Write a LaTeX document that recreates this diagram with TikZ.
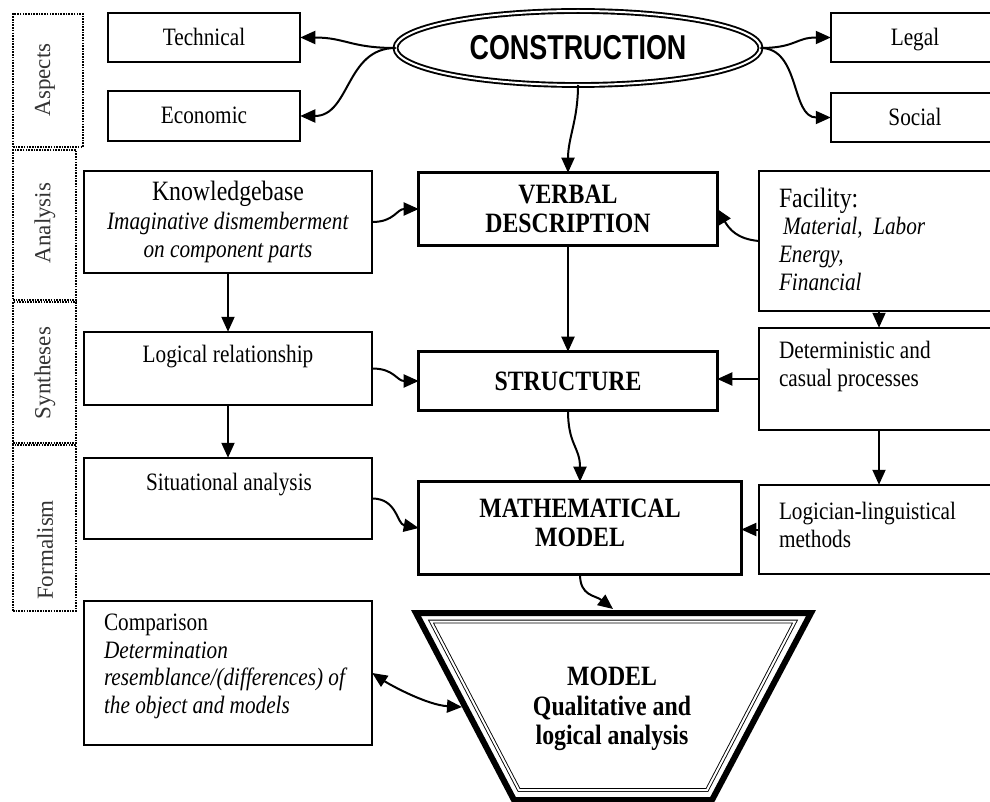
\documentclass[tikz,border=0pt]{standalone}
\usepackage{fontspec}
\setmainfont[FakeStretch=0.85]{Liberation Serif}
\newfontfamily\plainserif{Liberation Serif}
\newfontfamily\consfont[FakeStretch=0.78]{Liberation Sans}
\usetikzlibrary{shapes.geometric,arrows.meta}
\begin{document}
\begin{tikzpicture}[x=1pt,y=-1pt,line join=miter,
  box/.style={draw, rectangle, line width=1.7pt, inner sep=0pt, outer sep=0pt},
  thickbox/.style={box, line width=3.5pt},
  dotbox/.style={draw, rectangle, line width=2pt, dash pattern=on 1.6pt off 1.1pt, inner sep=0pt, outer sep=0pt},
  rtext/.style={font=\fontsize{25}{27.7}\selectfont},
  btext/.style={font=\fontsize{28}{29.5}\selectfont\bfseries},
  tnode/.style={inner sep=0pt, outer sep=0pt},
  lab/.style={tnode, font=\plainserif\fontsize{23}{25}\selectfont, rotate=90, text=black!80},
  aspect/.style={box, rtext, text height=20pt, text depth=4pt},
  arr/.style={line width=2pt, -{Triangle[length=15pt,width=13pt]}},
  darr/.style={line width=2pt, {Triangle[length=15pt,width=13pt]}-{Triangle[length=15pt,width=13pt]}}
]
\useasboundingbox (0,0) rectangle (990,802);

% side labels
\node[dotbox, minimum width=70, minimum height=133] (aspbox) at (48,80.5) {};
\node[dotbox, minimum width=63, minimum height=150] (anabox) at (44.5,225) {};
\node[dotbox, minimum width=63, minimum height=141] (synbox) at (44.5,372.5) {};
\node[dotbox, minimum width=63, minimum height=166] (forbox) at (44.5,528) {};
\node[lab] (asp) at (45,80) {Aspects};
\node[lab] (ana) at (45,223) {Analysis};
\node[lab] (syn) at (45,373) {Syntheses};
\node[lab] (for) at (45,550) {Formalism};

% top row
\node[draw, ellipse, line width=1.9pt, double, double distance=2pt, inner sep=0pt, outer sep=0pt,
      minimum width=365, minimum height=74, font=\consfont\bfseries\fontsize{34.5}{36}\selectfont] (constr) at (578,48) {CONSTRUCTION};
\node[aspect, minimum width=192.5, minimum height=49.5] (tech) at (204,37.5) {Technical};
\node[aspect, minimum width=192.5, minimum height=50.5] (econ) at (204,116) {Economic};
\node[aspect, minimum width=168.5, minimum height=49.5] (legal) at (915,37.5) {Legal};
\node[aspect, minimum width=168.5, minimum height=49.5] (social) at (915,117.5) {Social};

% row 2
\node[box, rtext, align=center, minimum width=288.5, minimum height=102.5] (know) at (228,222)
  {{\fontsize{28}{28}\selectfont Knowledgebase}\\[1pt]\textit{Imaginative dismemberment}\\\textit{on component parts}};
\node[thickbox, btext, align=center, minimum width=298.6, minimum height=72.6] (verbal) at (568,209) {VERBAL\\DESCRIPTION};
\node[box, minimum width=240.5, minimum height=140.5] (facil) at (879,241) {};
\node[tnode, rtext, align=left, anchor=west] (facilT) at (779,239)
  {{\fontsize{28}{28}\selectfont Facility:}\\\hspace*{4pt}\textit{Material,\ \ Labor}\\\textit{Energy,}\\\textit{Financial}};

% row 3
\node[box, minimum width=288.5, minimum height=73.5] (logic) at (228,368.5) {};
\node[tnode, rtext] (logicT) at (228,357) {Logical relationship};
\node[thickbox, btext, minimum width=298.6, minimum height=58.6] (struct) at (568,381) {STRUCTURE};
\node[box, minimum width=240.5, minimum height=102.5] (determ) at (879,379) {};
\node[tnode, rtext, align=left, anchor=west] (determT) at (779,366.5) {Deterministic and\\casual processes};

% row 4
\node[box, minimum width=288.5, minimum height=81.5] (situ) at (228,498.5) {};
\node[tnode, rtext] (situT) at (229,485) {Situational analysis};
\node[thickbox, minimum width=322.6, minimum height=92.6] (math) at (580,528) {};
\node[tnode, btext, align=center] (mathT) at (580,523) {MATHEMATICAL\\MODEL};
\node[box, minimum width=240.5, minimum height=89.5] (logician) at (879,529.5) {};
\node[tnode, rtext, align=left, anchor=west] (logicianT) at (779,525) {Logician-linguistical\\methods};

% row 5
\node[box, minimum width=288.5, minimum height=144.5] (compar) at (228,673) {};
\node[tnode, rtext, align=left, anchor=west] (comparT) at (104,666.5)
  {Comparison\\\textit{Determination}\\\textit{resemblance/(differences) of}\\\textit{the object and models}};

% trapezoid model
\draw[line width=6pt] (416,613) -- (811,613) -- (712,800) -- (514,800) -- cycle;
\draw[line width=0.9pt, double, double distance=2pt] (431,621.5) -- (795,621.5) -- (707,790) -- (519,790) -- cycle;
\node[tnode, btext, align=center] (model) at (612,709) {MODEL\\Qualitative and\\logical analysis};
\coordinate (mtop) at (613,609);
\coordinate (mleft) at (462,707);

% connectors
\draw[arr] (constr.west) .. controls +(-45,0) and +(45,0) .. (tech.east);
\draw[arr] (constr.west) .. controls +(-50,0) and +(50,0) .. (econ.east);
\draw[arr] (constr.east) .. controls +(35,0) and +(-35,0) .. (legal.west);
\draw[arr] (constr.east) .. controls +(40,0) and +(-40,0) .. (social.west);
\draw[arr] (constr.south) .. controls +(0,35) and +(0,-35) .. (verbal.north);
\draw[arr] (know.east) .. controls +(22,0) and +(-22,0) .. (verbal.west);
\draw[arr] (facil.west) .. controls +(-22,-2) and +(12,20) .. (verbal.east);
\draw[arr] (verbal.south) -- (struct.north);
\draw[arr] (know.south) -- (logic.north);
\draw[arr] (facil.south) -- (determ.north);
\draw[arr] (logic.east) .. controls +(22,0) and +(-22,0) .. (struct.west);
\draw[arr] (determ.west) -- (determ.west -| struct.east);
\draw[arr] (logic.south) -- (situ.north);
\draw[arr] (struct.south) .. controls +(0,35) and +(0,-35) .. (math.north);
\draw[arr] (determ.south) -- (logician.north);
\draw[arr] (situ.east) .. controls +(25,0) and +(-22,-4) .. (math.west);
\draw[arr] (logician.west) -- (logician.west -| math.east);
\draw[arr] (math.south) .. controls +(0,22) and +(-18,-14) .. (mtop);
\draw[darr] (compar.east) .. controls +(18,12) and +(-35,-2) .. (mleft);
\end{tikzpicture}
\end{document}
